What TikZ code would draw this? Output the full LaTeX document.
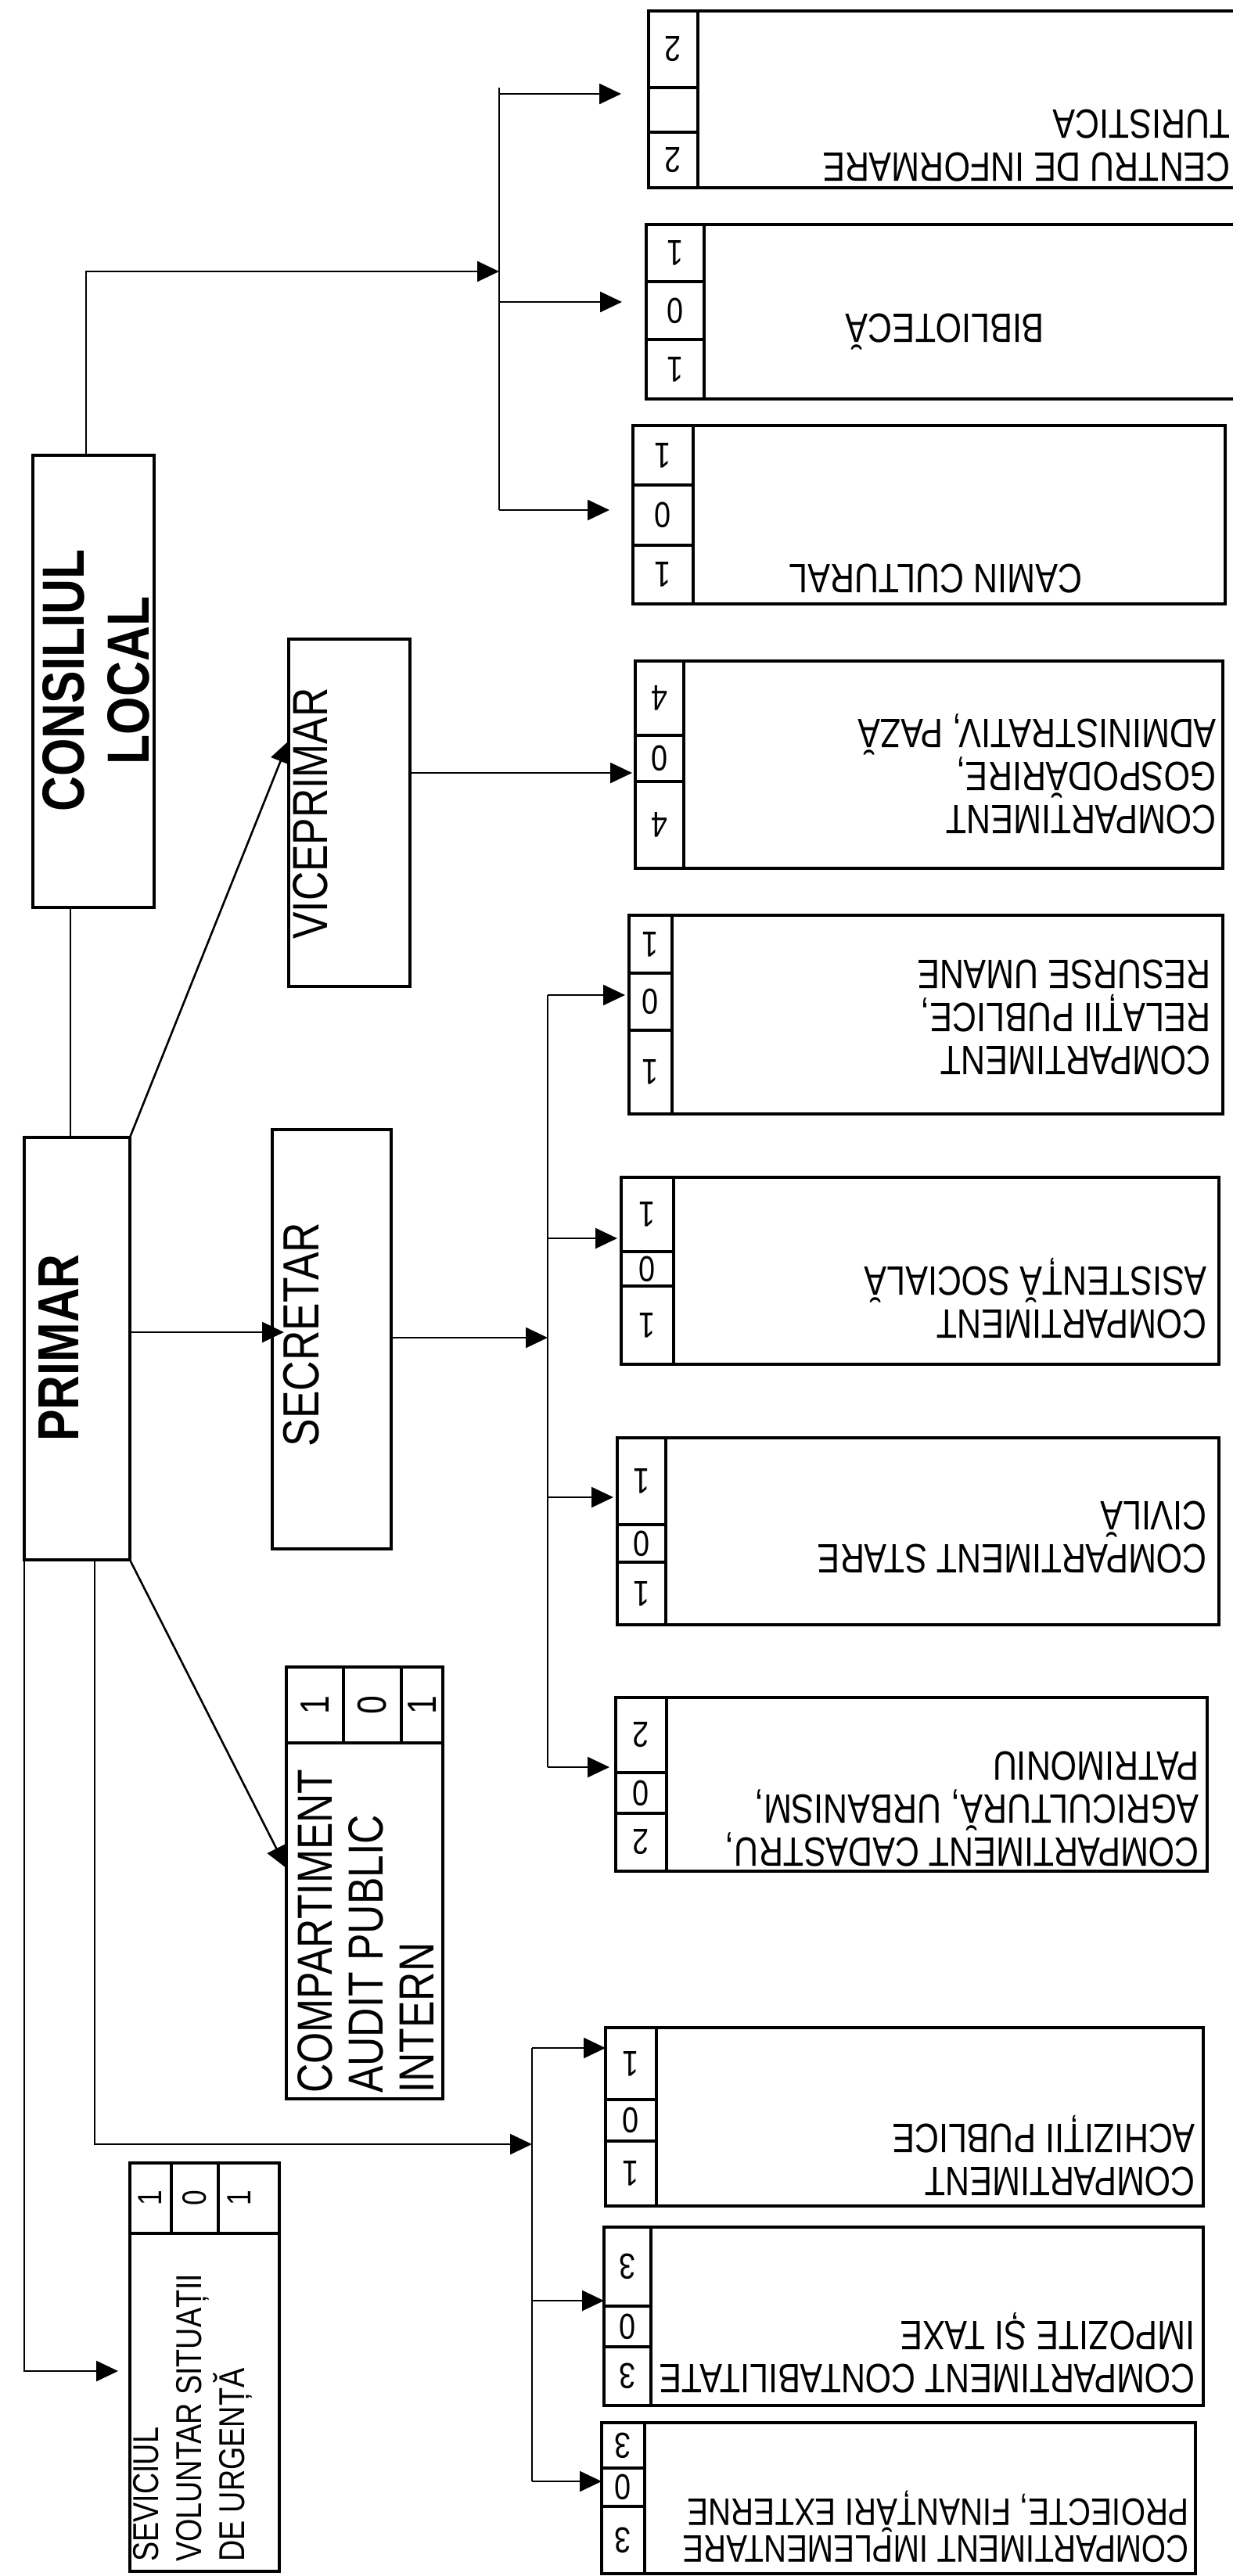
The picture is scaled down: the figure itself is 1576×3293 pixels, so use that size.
\documentclass[tikz,border=0pt]{standalone}
\usepackage{fontspec}
\setmainfont{Liberation Sans}[FakeStretch=0.82]
\usetikzlibrary{arrows.meta}
\tikzset{
  boxs/.style={draw, line width=3.5pt, inner sep=0pt, outer sep=0pt, rectangle},
  sepl/.style={line width=3.5pt},
  conn/.style={line width=2.6pt},
  arr/.style={conn, -{Triangle[length=28pt,width=26pt]}},
  rtxt/.style={rotate=180, align=left, inner sep=0pt, font=\fontsize{52.5}{55}\selectfont},
  rnum/.style={rotate=180, inner sep=0pt, font=\fontsize{46}{46}\selectfont},
  ltxt/.style={rotate=90, align=left, inner sep=0pt},
  lnum/.style={rotate=90, inner sep=0pt},
}
\def\RBnum#1,#2,#3\relax{\def\na{#1}\def\nb{#2}\def\nc{#3}}
% name x1 y1 x2 y2 xn d1 d2 nums
\newcommand\RB[9]{%
  \node[boxs, anchor=north west, minimum width={#4-#2}, minimum height={#5-#3}] (#1) at (#2,#3) {};
  \draw[sepl] (#6,#3) -- (#6,#5);
  \draw[sepl] (#2,#7) -- (#6,#7);
  \draw[sepl] (#2,#8) -- (#6,#8);
  \RBnum#9\relax
  \node[rnum] (#1-a) at ({(#2+#6)/2},{(#3+#7)/2}) {\na};
  \node[rnum] (#1-b) at ({(#2+#6)/2},{(#7+#8)/2}) {\nb};
  \node[rnum] (#1-c) at ({(#2+#6)/2},{(#8+#5)/2}) {\nc};
}
\begin{document}
\begin{tikzpicture}[x=1pt,y=-1pt]
\useasboundingbox (0,0) rectangle (1576,3293);
\clip (0,0) rectangle (1576,3293);
\fill[white] (0,0) rectangle (1576,3293);

% ---------- right-hand boxes ----------
\RB{cen}{829}{14}{1620}{240}{892}{112}{169}{2,,2}
\RB{bib}{826}{287}{1620}{510}{900}{360}{434}{1,0,1}
\RB{cam}{809}{544}{1566}{772}{886}{620}{697}{1,0,1}
\RB{gos}{812}{845}{1563}{1110}{874}{940}{999}{4,0,4}
\RB{rel}{804}{1170}{1563}{1424}{859}{1244}{1317}{1,0,1}
\RB{asi}{794}{1505}{1558}{1744}{861}{1600}{1644}{1,0,1}
\RB{sta}{789}{1838}{1558}{2077}{851}{1949}{1997}{1,0,1}
\RB{cad}{787}{2170}{1543}{2392}{852}{2266}{2318}{2,0,2}
\RB{ach}{774}{2592}{1538}{2820}{839}{2684}{2737}{1,0,1}
\RB{con}{772}{2847}{1538}{3075}{832}{2948}{3000}{3,0,3}
\RB{imp}{769}{3097}{1528}{3290}{824}{3155}{3204}{3,0,3}

\node[rtxt, anchor=west] (cen-t) at (1573,186) {CENTRU DE INFORMARE\\TURISTICA};
\node[rtxt] (bib-t) at (1208,424) {BIBLIOTECĂ};
\node[rtxt] (cam-t) at (1196,740) {CAMIN CULTURAL};
\node[rtxt, anchor=west] (gos-t) at (1555,989) {COMPARTIMENT\\GOSPODĂRIRE,\\ADMINISTRATIV, PAZĂ};
\node[rtxt, anchor=west] (rel-t) at (1548,1301) {COMPARTIMENT\\RELAȚII PUBLICE,\\RESURSE UMANE};
\node[rtxt, anchor=west] (asi-t) at (1543,1660) {COMPARTIMENT\\ASISTENȚĂ SOCIALĂ};
\node[rtxt, anchor=west] (sta-t) at (1543,1965) {COMPARTIMENT STARE\\CIVILĂ};
\node[rtxt, anchor=west] (cad-t) at (1533,2313) {COMPARTIMENT CADASTRU,\\AGRICULTURĂ, URBANISM,\\PATRIMONIU};
\node[rtxt, anchor=west] (ach-t) at (1528,2756) {COMPARTIMENT\\ACHIZIȚII PUBLICE};
\node[rtxt, anchor=west] (con-t) at (1528,3008) {COMPARTIMENT CONTABILITATE\\IMPOZITE ȘI TAXE};
\node[rtxt, anchor=west, font=\fontsize{49}{47}\selectfont] (imp-t) at (1520,3230) {COMPARTIMENT IMPLEMENTARE\\PROIECTE, FINANȚĂRI EXTERNE};

% ---------- left-hand boxes ----------
\node[boxs, anchor=north west, minimum width=155pt, minimum height=578pt] (cons) at (42,582) {};
\node[boxs, anchor=north west, minimum width=135pt, minimum height=540pt] (prim) at (31,1454) {};
\node[boxs, anchor=north west, minimum width=152pt, minimum height=536pt] (sec) at (348,1444) {};
\node[boxs, anchor=north west, minimum width=155pt, minimum height=444pt] (vice) at (369,817) {};
\node[boxs, anchor=north west, minimum width=200pt, minimum height=552pt] (aud) at (366,2131) {};
\node[boxs, anchor=north west, minimum width=191pt, minimum height=522pt] (sev) at (166,2765) {};

\node[ltxt, align=center, font=\bfseries\fontsize{76}{83}\selectfont] (cons-t) at (123,870) {CONSILIUL\\LOCAL};
\node[ltxt, font=\bfseries\fontsize{74}{74}\selectfont] (prim-t) at (75,1723) {PRIMAR};
\node[ltxt, font=\fontsize{65}{65}\selectfont] (sec-t) at (385,1706) {SECRETAR};
\node[ltxt, font=\fontsize{63}{63}\selectfont] (vice-t) at (397,1040) {VICEPRIMAR};
\node[ltxt, anchor=west, font=\fontsize{63}{65}\selectfont] (aud-t) at (467,2676) {COMPARTIMENT\\AUDIT PUBLIC\\INTERN};
\node[ltxt, anchor=west, font=\fontsize{46}{55}\selectfont] (sev-t) at (246,3275) {SEVICIUL\\VOLUNTAR SITUAȚII\\DE URGENȚĂ};

\draw[sepl] (366,2228) -- (566,2228) (439,2131) -- (439,2228) (513,2131) -- (513,2228);
\node[lnum, font=\fontsize{52}{52}\selectfont] (aud-a) at (403,2180) {1};
\node[lnum, font=\fontsize{52}{52}\selectfont] (aud-b) at (476,2180) {0};
\node[lnum, font=\fontsize{52}{52}\selectfont] (aud-c) at (540,2180) {1};

\draw[sepl] (166,2855) -- (357,2855) (219,2765) -- (219,2855) (279,2765) -- (279,2855);
\node[lnum, font=\fontsize{43}{43}\selectfont] (sev-a) at (192,2810) {1};
\node[lnum, font=\fontsize{43}{43}\selectfont] (sev-b) at (249,2810) {0};
\node[lnum, font=\fontsize{43}{43}\selectfont] (sev-c) at (306,2810) {1};

% ---------- connector coordinates ----------
\coordinate (b1t) at (638,112);
\coordinate (b1b) at (638,652);
\coordinate (b1a) at (638,120);
\coordinate (b1c) at (638,386);
\coordinate (c1) at (110,347);
\coordinate (vtip) at (369,947);
\coordinate (g1) at (0,988);
\coordinate (s1) at (0,1703);
\coordinate (s2) at (0,1710);
\coordinate (b2t) at (700,1272);
\coordinate (b2b) at (700,2259);
\coordinate (b2a) at (700,1583);
\coordinate (b2c) at (700,1914);
\coordinate (atip) at (0,2388);
\coordinate (p3) at (121,2741);
\coordinate (p4) at (31,3031);
\coordinate (b3t) at (680,2618);
\coordinate (b3b) at (680,3172);
\coordinate (b3a) at (680,2941);

% ---------- connectors ----------
\draw[arr] (c1 |- cons.north) -- (c1) -- (c1 -| b1a);
\draw[conn] (b1t) -- (b1b);
\draw[arr, shorten >=35pt] (b1a) -- (b1a -| cen.west);
\draw[arr, shorten >=31pt] (b1c) -- (b1c -| bib.west);
\draw[arr, shorten >=30pt] (b1b) -- (b1b -| cam.west);

\draw[arr] (prim.north east) -- (vtip -| vice.west);
\draw[arr, shorten >=4pt] (g1 -| vice.east) -- (g1 -| gos.west);
\draw[conn] (cons.south -| 90,0) -- (prim.north -| 90,0);

\draw[arr, shorten >=-15pt] (s1 -| prim.east) -- (s1 -| sec.west);
\draw[arr] (s2 -| sec.east) -- (s2 -| b2t);
\draw[conn] (b2t) -- (b2b);
\draw[arr, shorten >=5pt] (b2t) -- (b2t -| rel.west);
\draw[arr, shorten >=5pt] (b2a) -- (b2a -| asi.west);
\draw[arr, shorten >=5pt] (b2c) -- (b2c -| sta.west);
\draw[arr, shorten >=8pt] (b2b) -- (b2b -| cad.west);

\draw[arr] (prim.south east) -- (atip -| aud.west);
\draw[arr] (p3 |- prim.south) -- (p3) -- (p3 -| b3t);
\draw[arr, shorten >=15pt] (prim.south west) -- (p4) -- (p4 -| sev.west);
\draw[conn] (b3t) -- (b3b);
\draw[arr] (b3t) -- (b3t -| ach.west);
\draw[arr] (b3a) -- (b3a -| con.west);
\draw[arr] (b3b) -- (b3b -| imp.west);
\end{tikzpicture}
\end{document}
